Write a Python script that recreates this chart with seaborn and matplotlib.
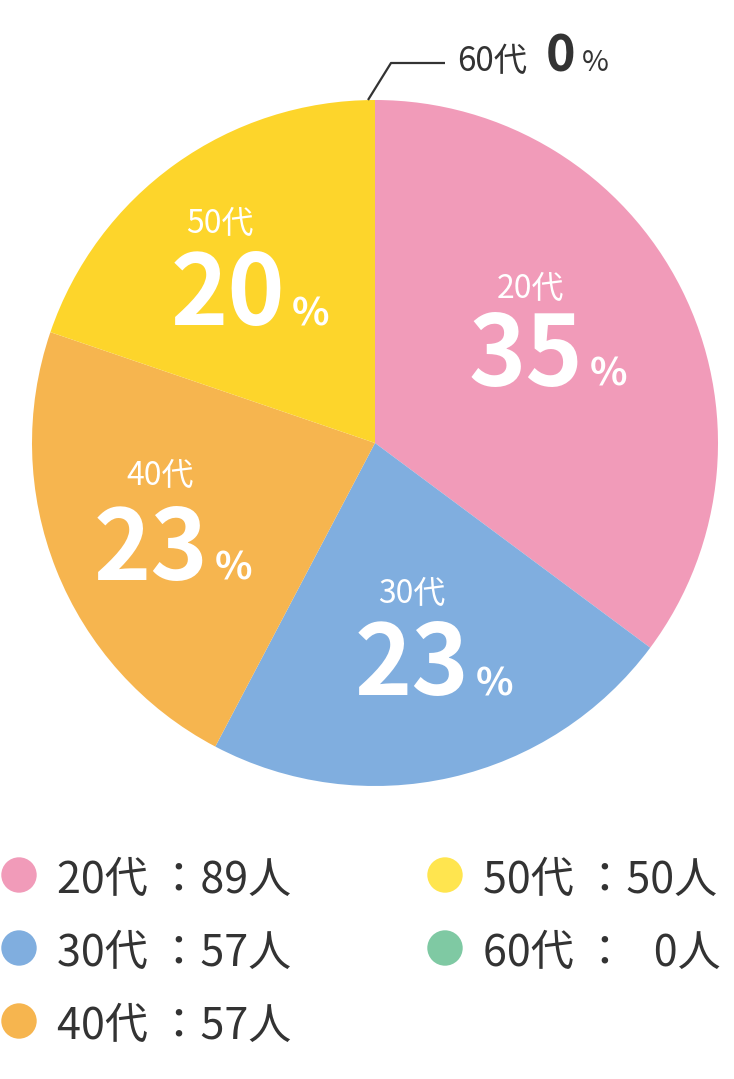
import matplotlib
matplotlib.use("Agg")
import matplotlib.pyplot as plt
import pandas as pd
import seaborn as sns

# data
ages = ["20代", "30代", "40代", "50代", "60代"]
counts = [89, 57, 57, 50, 0]
pct_labels = [35, 23, 23, 20, 0]
pie_colors = ["#F19BB9", "#80AEDF", "#F6B54F", "#FDD52B", "#7FC9A3"]
legend_colors = ["#F19BB9", "#80AEDF", "#F6B54F", "#FFE54F", "#7FC9A3"]

W, H = 734, 1079
DARK = "#333333"

sns.set_theme(style="white")
plt.rcParams["font.family"] = ["Noto Sans CJK JP", "DejaVu Sans"]

fig = plt.figure(figsize=(W / 100, H / 100), dpi=100)
ax = fig.add_axes([0, 0, 1, 1])

ax.pie(counts, colors=pie_colors, startangle=90, counterclock=False,
       center=(375, H - 443), radius=343,
       wedgeprops=dict(linewidth=0))
ax.set_xlim(0, W)
ax.set_ylim(0, H)
ax.set_aspect("equal")
ax.axis("off")

# label layout (pixel coords from top): age-label centre x, age baseline, split x, number baseline
label_layout = [
    (530, 298, 586, 386),
    (412, 603, 472, 695),
    (160, 485, 211, 580),
    (220, 233, 288, 325),
]

for i, (cx, yb, sx, nb) in enumerate(label_layout):
    ax.text(cx, H - yb, ages[i], color="white", fontsize=23,
            ha="center", va="baseline")
    ax.text(sx - 3, H - nb, str(pct_labels[i]), color="white", fontsize=70,
            fontweight="bold", ha="right", va="baseline")
    ax.text(sx + 4, H - nb, "%", color="white", fontsize=28,
            fontweight="bold", ha="left", va="baseline")

# 60代 0% callout
ax.plot([368, 391, 445], [H - 100, H - 63, H - 63], color=DARK, lw=1.6,
        solid_capstyle="butt")
ax.text(457, H - 71, ages[4], color=DARK, fontsize=24, ha="left", va="baseline")
ax.text(546, H - 71, str(pct_labels[4]), color=DARK, fontsize=36,
        fontweight="bold", ha="left", va="baseline")
ax.text(582, H - 71, "%", color=DARK, fontsize=21, ha="left", va="baseline")

# legend: 3 rows in first column, rest in second
leg = pd.DataFrame({"age": ages, "count": counts})
leg["col"] = leg.index // 3
leg["row"] = leg.index % 3
leg["x"] = 19 + leg["col"] * 426
leg["y"] = H - (875 + leg["row"] * 73)

sns.scatterplot(data=leg, x="x", y="y", hue="age", palette=legend_colors,
                s=1300 / 2, linewidth=0, legend=False, ax=ax, zorder=3)

for _, r in leg.iterrows():
    num = f"{r['count']:>2}".replace(" ", "\u2007")
    ax.text(r["x"] + 38, r["y"] - 18, f"{r['age']} ：{num}人", color=DARK,
            fontsize=31, ha="left", va="baseline")

ax.set_xlim(0, W)
ax.set_ylim(0, H)
fig.savefig("out.png", dpi=100, facecolor="white")
